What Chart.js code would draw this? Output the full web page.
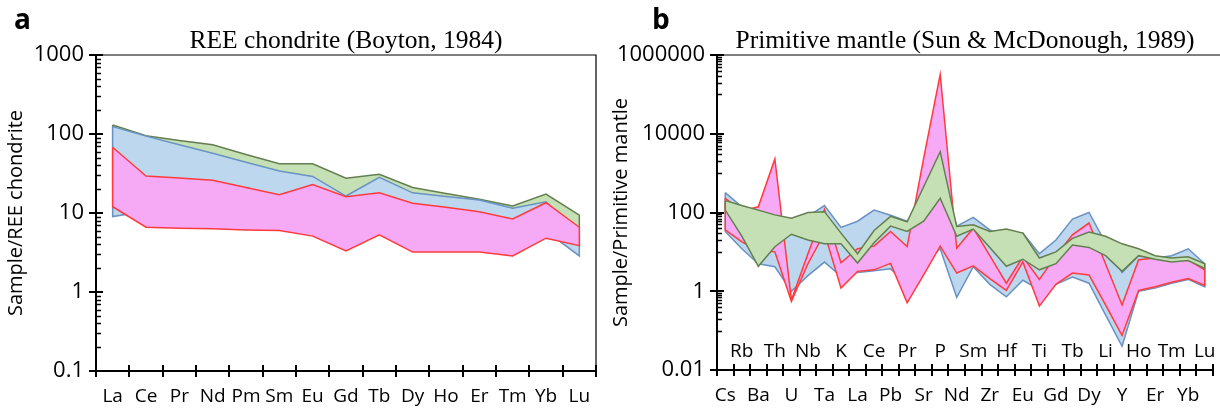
<!DOCTYPE html>
<html>
<head>
<meta charset="utf-8">
<script src="https://cdn.jsdelivr.net/npm/chart.js@4.4.1/dist/chart.umd.min.js"></script>
<style>
  html, body { margin: 0; padding: 0; background: #fff; }
  #wrap { position: relative; width: 1220px; height: 408px; overflow: hidden; }
  .panel { position: absolute; top: 0; }
  #boxA { left: 0; }
  #boxB { left: 605px; }
  .tag { position: absolute; top: -1px; font: bold 28px "Open Sans", sans-serif; color: #000; }
</style>
</head>
<body>
<div id="wrap">
  <div class="panel" id="boxA"><canvas id="chartA" width="605" height="408"></canvas></div>
  <div class="panel" id="boxB"><canvas id="chartB" width="615" height="408"></canvas></div>
  <div class="tag" style="left:14px">a</div>
  <div class="tag" style="left:652px">b</div>
</div>
<script>
// ---- panel a : REE / chondrite ----
const reeLabels = ['La', 'Ce', 'Pr', 'Nd', 'Pm', 'Sm', 'Eu', 'Gd', 'Tb', 'Dy', 'Ho', 'Er', 'Tm', 'Yb', 'Lu'];
const reeGreenMax = [130, 95, 83, 73, 55, 42, 42, 27.5, 31, 21, 17.7, 14.9, 12.3, 17.4, 9.4];
const reeGreenMin = [20, 12, 11, 10, 9, 9, 9, 8, 8, 6, 6, 5, 5, 6, 3.7];
const reeBlueMax = [124, 94, 73, 57, 44, 34, 29, 16.4, 28.3, 18, 16.2, 14.6, 11.5, 13.9, 5];
const reeBlueMin = [9.0, 10.5, 9, 9, 8, 8, 7, 5, 7, 5, 5, 5, 5, 5.9, 2.86];
const reePinkMax = [68, 29.4, 27.7, 26, 21, 17, 23, 16.1, 18, 13.3, 11.8, 10.4, 8.4, 13.5, 6.6];
const reePinkMin = [12, 6.6, 6.4, 6.3, 6.1, 6.0, 5.1, 3.3, 5.3, 3.2, 3.2, 3.2, 2.86, 4.8, 3.86];
const reeYTicks = [0.1, 1, 10, 100, 1000];

// ---- panel b : primitive mantle ----
const pmLabels = ['Cs', 'Rb', 'Ba', 'Th', 'U', 'Nb', 'Ta', 'K', 'La', 'Ce', 'Pb', 'Pr', 'Sr', 'P', 'Nd',
                  'Sm', 'Zr', 'Hf', 'Eu', 'Ti', 'Gd', 'Tb', 'Dy', 'Li', 'Y', 'Ho', 'Er', 'Tm', 'Yb', 'Lu'];
const pmBlueMax = [320, 140, 90, 60, 50, 80, 150, 42, 60, 115, 85, 60, 150, 1500, 45,
                   75, 36, 25, 30, 9, 20, 68, 100, 17, 3, 8, 7, 8, 12, 5];
const pmBlueMin = [33, 12, 5, 4.2, 1.0, 2.5, 5.5, 2.4, 3.0, 3.3, 3.7, 1.5, 5, 12, 0.7,
                   4.2, 1.5, 0.72, 1.9, 1.1, 1.5, 2.3, 1.6, 0.25, 0.04, 1.0, 1.2, 1.6, 2.0, 1.3];
const pmPinkMax = [230, 110, 140, 2300, 0.6, 9, 120, 5.3, 12, 14, 33, 13.6, 2400, 320000, 12.4,
                   40, 8, 1.6, 7.5, 2, 8, 27, 54, 5, 0.45, 6.3, 7, 6.5, 6.3, 3.5];
const pmPinkMin = [36, 18, 11, 10, 0.55, 5, 30, 1.2, 3.2, 3.5, 5.1, 0.51, 2.6, 14, 2.9,
                   4.4, 2.1, 1.05, 5.5, 0.42, 1.5, 2.9, 2.6, 0.45, 0.075, 1.05, 1.3, 1.7, 2.1, 1.4];
const pmGreenMax = [200, 150, 115, 87, 72, 100, 105, 30, 9, 35, 80, 58, 450, 3500, 44,
                    49, 33, 38, 30, 7, 10, 22, 32, 25, 16, 12, 8, 7, 7.5, 5];
const pmGreenMin = [115, 25, 4.3, 13.5, 28, 20, 16, 16, 5.2, 17, 45, 33, 60, 230, 25,
                    38, 13, 4.3, 6.5, 3.5, 5, 15, 13, 8, 3.2, 8, 6.5, 5.5, 6, 3.8];
const pmYTicks = [0.01, 1, 100, 10000, 1000000];

const FONT = '"Open Sans", "Noto Sans", sans-serif';
const SERIF = '"Liberation Serif", "DejaVu Serif", serif';
const LABEL_SIZE = 19;
const colors = {
    blue: { fill: '#BDD7EE', line: '#6A92C2' },
    green: { fill: '#C5E0B4', line: '#637F50' },
    pink: { fill: '#F6A9F4', line: '#FF3B3B' }
};

// closed polygon : upper edge left to right, lower edge back
const envelope = (labels, upper, lower) => {
    const pts = labels.map((l, i) => ({ x: l, y: upper[i] }));
    for (let i = labels.length - 1; i >= 0; i--) pts.push({ x: labels[i], y: lower[i] });
    pts.push({ x: labels[0], y: upper[0] });
    return pts;
};

const band = (labels, upper, lower, c, order) => ({
    data: envelope(labels, upper, lower),
    fill: 'shape',
    backgroundColor: c.fill,
    borderColor: c.line,
    borderWidth: 1.5,
    pointRadius: 0,
    tension: 0,
    order: order
});

// minor ticks (inside), inner half of major ticks, frame, and staggered labels
const axisExtras = {
    id: 'axisExtras',
    afterDraw(chart, args, opts) {
        const { ctx, chartArea: a, scales: { x, y } } = chart;
        ctx.save();
        ctx.strokeStyle = '#000';
        ctx.lineWidth = 1.2;
        ctx.beginPath();
        ctx.moveTo(a.left, a.top);
        ctx.lineTo(opts.topEnd || a.right, a.top);
        if (opts.rightBorder) ctx.lineTo(a.right, a.bottom);
        ctx.stroke();

        ctx.lineWidth = 1.5;
        opts.minor.forEach(v => {
            const py = Math.round(y.getPixelForValue(v)) + 0.5;
            ctx.beginPath(); ctx.moveTo(a.left, py); ctx.lineTo(a.left + 5, py); ctx.stroke();
        });
        ctx.lineWidth = 2;
        opts.major.forEach(v => {
            const py = Math.round(y.getPixelForValue(v));
            ctx.beginPath(); ctx.moveTo(a.left, py); ctx.lineTo(a.left + 7, py); ctx.stroke();
        });
        const n = x.getLabels().length;
        for (let i = 0; i <= n; i++) {
            const px = Math.round(a.left + i * (a.right - a.left) / n);
            ctx.beginPath(); ctx.moveTo(px, a.bottom); ctx.lineTo(px, a.bottom - 6); ctx.stroke();
        }
        if (opts.innerLabels) {
            ctx.fillStyle = '#000';
            ctx.font = LABEL_SIZE + 'px ' + FONT;
            ctx.textAlign = 'center';
            ctx.textBaseline = 'middle';
            x.getLabels().forEach((l, i) => {
                if (i % 2 === 1) ctx.fillText(l, x.getPixelForValue(i), opts.innerLabels);
            });
        }
        ctx.restore();
    }
};

const decadeMinors = [];
reeYTicks.slice(0, -1).forEach(d => { for (let m = 2; m <= 9; m++) decadeMinors.push(m * d); });
const base100Minors = [];
pmYTicks.slice(0, -1).forEach(d => { for (let m = 1; m <= 9; m++) base100Minors.push(m * d * 10); });

const makeChart = (canvasId, cfg) => new Chart(document.getElementById(canvasId), {
    type: 'line',
    data: { labels: cfg.labels, datasets: cfg.datasets },
    options: {
        responsive: false,
        animation: false,
        events: [],
        layout: { padding: { right: cfg.padRight, top: 0, bottom: 0, left: 0 } },
        plugins: {
            legend: { display: false },
            tooltip: { enabled: false },
            title: {
                display: true,
                text: cfg.title,
                fullSize: false,
                color: '#000',
                font: { family: SERIF, size: 25.5, weight: 'normal', lineHeight: 1 },
                padding: { top: 29, bottom: 0.5 }
            },
            axisExtras: cfg.extras
        },
        scales: {
            x: {
                type: 'category',
                offset: true,
                grid: { offset: true, drawOnChartArea: false, tickLength: 6, color: '#000', lineWidth: 2 },
                border: { color: '#000', width: 2 },
                ticks: {
                    color: '#000', font: { family: FONT, size: LABEL_SIZE }, padding: 8,
                    maxRotation: 0, autoSkip: false,
                    callback: (v, i) => (cfg.stagger && i % 2 === 1) ? '' : cfg.labels[i]
                },
                afterFit: s => { s.height = 408 - cfg.bottom; }
            },
            y: {
                type: 'logarithmic',
                min: cfg.yTicks[0],
                max: cfg.yTicks[cfg.yTicks.length - 1],
                afterBuildTicks: s => { s.ticks = cfg.yTicks.map(v => ({ value: v, major: true })); },
                grid: { drawOnChartArea: false, tickLength: 7, color: '#000', lineWidth: 2 },
                border: { color: '#000', width: 2 },
                ticks: {
                    color: '#000', font: { family: FONT, size: 22 }, padding: 5, autoSkip: false,
                    callback: v => String(v)
                },
                title: {
                    display: true, text: cfg.yTitle, color: '#000',
                    font: { family: FONT, size: 20 }, padding: { top: 4, bottom: 0 }
                },
                afterFit: s => { s.width = cfg.yWidth; }
            }
        }
    },
    plugins: [axisExtras]
});

makeChart('chartA', {
    labels: reeLabels,
    title: 'REE chondrite (Boyton, 1984)',
    yTitle: 'Sample/REE chondrite',
    yTicks: reeYTicks,
    yWidth: 96,
    padRight: 9,
    bottom: 371,
    stagger: false,
    extras: { minor: decadeMinors, major: reeYTicks, rightBorder: true },
    datasets: [
        band(reeLabels, reeGreenMax, reeGreenMin, colors.green, 3),
        band(reeLabels, reeBlueMax, reeBlueMin, colors.blue, 2),
        band(reeLabels, reePinkMax, reePinkMin, colors.pink, 1)
    ]
});

makeChart('chartB', {
    labels: pmLabels,
    title: 'Primitive mantle (Sun & McDonough, 1989)',
    yTitle: 'Sample/Primitive mantle',
    yTicks: pmYTicks,
    yWidth: 112,
    padRight: 7,
    bottom: 370,
    stagger: true,
    extras: { minor: base100Minors, major: pmYTicks, rightBorder: false, topEnd: 615, innerLabels: 352 },
    datasets: [
        band(pmLabels, pmBlueMax, pmBlueMin, colors.blue, 3),
        band(pmLabels, pmPinkMax, pmPinkMin, colors.pink, 2),
        band(pmLabels, pmGreenMax, pmGreenMin, colors.green, 1)
    ]
});
</script>
</body>
</html>
